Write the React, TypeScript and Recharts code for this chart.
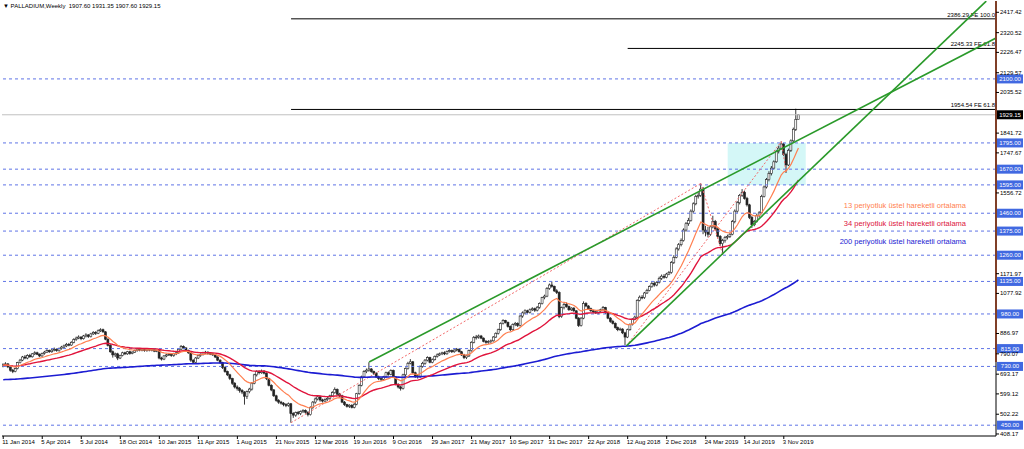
import { ComposedChart, Bar, Line, XAxis, YAxis, ReferenceLine, ReferenceArea } from 'recharts'

const dateLabels = [
  '11 Jan 2014', '5 Apr 2014', '5 Jul 2014', '18 Oct 2014', '10 Jan 2015', '11 Apr 2015', '1 Aug 2015',
  '21 Nov 2015', '12 Mar 2016', '19 Jun 2016', '9 Oct 2016', '29 Jan 2017', '21 May 2017', '10 Sep 2017',
  '31 Dec 2017', '22 Apr 2018', '12 Aug 2018', '2 Dec 2018', '24 Mar 2019', '14 Jul 2019', '3 Nov 2019',
]
const barsPerLabel = 16

// weekly candles, one entry per bar
const opens = [
  732, 738, 742, 728, 712, 706, 720, 748, 760, 775,
  770, 782, 776, 790, 795, 788, 780, 792, 798, 805,
  800, 808, 812, 805, 815, 822, 828, 835, 832, 845,
  858, 865, 870, 862, 875, 880, 872, 885, 892, 888,
  900, 905, 895, 860, 830, 800, 785, 790, 770, 782,
  795, 790, 800, 792, 798, 805, 812, 808, 810, 806,
  812, 808, 810, 803, 806, 770, 765, 780, 785, 788,
  782, 790, 795, 812, 825, 818, 805, 795, 760, 750,
  770, 782, 788, 795, 798, 792, 790, 785, 775, 760,
  748, 725, 705, 690, 672, 650, 632, 625, 615, 608,
  588, 610, 622, 650, 690, 705, 700, 708, 698, 672,
  640, 618, 590, 568, 560, 555, 548, 545, 552, 505,
  498, 510, 505, 515, 520, 512, 500, 535, 560, 575,
  585, 570, 565, 572, 578, 590, 605, 620, 598, 590,
  560, 548, 540, 545, 535, 550, 600, 640, 680, 705,
  712, 718, 705, 698, 680, 672, 668, 680, 700, 692,
  710, 680, 645, 632, 625, 690, 720, 745, 752, 700,
  685, 680, 730, 745, 760, 772, 750, 762, 778, 785,
  790, 795, 790, 802, 805, 800, 808, 812, 800, 785,
  772, 780, 805, 845, 868, 870, 875, 865, 850, 845,
  848, 852, 870, 888, 905, 935, 948, 940, 920, 905,
  930, 935, 925, 970, 985, 995, 988, 1000, 1005, 998,
  1012, 1030, 1058, 1065, 1102, 1118, 1112, 1090, 1082, 968,
  1010, 1025, 1015, 1000, 1008, 995, 960, 925, 960, 1030,
  1018, 1005, 995, 990, 985, 995, 1000, 1010, 985, 960,
  945, 935, 915, 905, 908, 890, 870, 905, 930, 955,
  965, 1045, 1060, 1058, 1080, 1092, 1110, 1125, 1118, 1130,
  1150, 1160, 1155, 1170, 1178, 1225, 1250, 1290, 1310, 1330,
  1380, 1410, 1425, 1470, 1505, 1540, 1545, 1575, 1380, 1370,
  1360, 1395, 1420, 1385, 1350, 1315, 1330, 1345, 1350, 1360,
  1420, 1470, 1510, 1545, 1560, 1530, 1500, 1440, 1405, 1420,
  1450, 1462, 1540, 1585, 1620, 1650, 1675, 1705, 1755, 1770,
  1790, 1740, 1690, 1760, 1805, 1860, 1907.6,
]
const highs = [
  745, 750, 746, 732, 718, 725, 752, 766, 780, 784,
  788, 790, 794, 802, 800, 792, 796, 804, 812, 810,
  813, 820, 816, 820, 828, 834, 842, 842, 850, 864,
  872, 878, 874, 880, 888, 884, 890, 898, 898, 906,
  912, 910, 898, 864, 836, 806, 796, 795, 786, 800,
  800, 804, 805, 802, 810, 818, 816, 815, 814, 817,
  818, 815, 814, 810, 810, 776, 784, 790, 794, 792,
  795, 800, 816, 832, 830, 822, 810, 798, 764, 775,
  786, 792, 800, 804, 802, 796, 794, 790, 778, 764,
  752, 730, 710, 695, 676, 655, 640, 632, 622, 612,
  615, 628, 655, 695, 712, 712, 715, 712, 702, 676,
  645, 622, 595, 574, 566, 560, 555, 558, 556, 512,
  515, 518, 520, 526, 525, 516, 540, 565, 582, 592,
  590, 576, 578, 584, 595, 612, 630, 625, 604, 595,
  565, 552, 550, 550, 555, 604, 645, 686, 712, 720,
  750, 722, 710, 702, 686, 678, 685, 705, 706, 716,
  715, 684, 650, 638, 695, 725, 752, 765, 756, 705,
  692, 735, 752, 765, 778, 776, 768, 782, 792, 796,
  800, 802, 806, 812, 810, 812, 818, 816, 804, 790,
  786, 810, 850, 875, 880, 882, 880, 868, 856, 855,
  858, 875, 892, 910, 940, 955, 952, 944, 925, 935,
  942, 940, 975, 992, 1002, 1000, 1006, 1012, 1010, 1018,
  1035, 1062, 1072, 1108, 1125, 1135, 1115, 1098, 1088, 1015,
  1032, 1035, 1020, 1012, 1012, 998, 965, 965, 1040, 1036,
  1022, 1010, 1000, 994, 1000, 1005, 1018, 1014, 988, 965,
  952, 940, 920, 915, 912, 895, 910, 935, 960, 972,
  1050, 1068, 1070, 1085, 1100, 1116, 1132, 1135, 1136, 1158,
  1168, 1170, 1176, 1185, 1232, 1260, 1298, 1318, 1340, 1388,
  1418, 1438, 1478, 1512, 1548, 1560, 1602, 1585, 1400, 1395,
  1402, 1448, 1428, 1392, 1356, 1338, 1352, 1358, 1365, 1428,
  1478, 1518, 1552, 1575, 1568, 1538, 1505, 1448, 1428, 1458,
  1470, 1548, 1592, 1628, 1660, 1685, 1712, 1762, 1782, 1802,
  1795, 1748, 1768, 1812, 1868, 1958, 1931.35,
]
const lows = [
  726, 733, 722, 705, 698, 702, 716, 744, 755, 764,
  764, 772, 772, 784, 784, 774, 776, 786, 794, 795,
  795, 802, 800, 800, 810, 816, 822, 826, 828, 840,
  852, 860, 855, 858, 868, 866, 868, 880, 880, 884,
  894, 890, 855, 825, 795, 772, 775, 760, 765, 778,
  784, 785, 786, 788, 794, 800, 802, 802, 800, 800,
  802, 802, 798, 798, 764, 758, 760, 774, 780, 776,
  776, 784, 790, 808, 812, 800, 790, 752, 742, 745,
  765, 776, 782, 790, 786, 784, 780, 770, 755, 742,
  718, 700, 684, 665, 642, 625, 615, 605, 598, 548,
  575, 602, 615, 645, 682, 692, 695, 692, 665, 635,
  612, 585, 562, 552, 548, 540, 536, 538, 462, 485,
  490, 498, 498, 508, 505, 492, 496, 528, 552, 568,
  562, 558, 560, 566, 572, 585, 600, 592, 582, 555,
  542, 534, 532, 530, 530, 545, 595, 635, 675, 698,
  705, 700, 690, 675, 665, 660, 662, 676, 686, 688,
  676, 640, 625, 615, 620, 682, 715, 740, 695, 675,
  672, 676, 724, 738, 754, 745, 745, 758, 772, 780,
  784, 784, 786, 796, 794, 795, 802, 796, 780, 765,
  765, 775, 800, 840, 858, 862, 860, 845, 838, 838,
  840, 848, 866, 882, 900, 930, 935, 915, 898, 900,
  922, 918, 920, 962, 978, 982, 982, 994, 990, 992,
  1005, 1025, 1050, 1060, 1095, 1105, 1085, 1075, 960, 962,
  1002, 1010, 995, 994, 990, 955, 918, 920, 955, 1012,
  1000, 990, 984, 980, 978, 990, 995, 980, 955, 938,
  930, 910, 898, 900, 884, 832, 865, 900, 925, 950,
  960, 1040, 1050, 1052, 1075, 1088, 1105, 1110, 1112, 1125,
  1142, 1148, 1150, 1165, 1172, 1218, 1245, 1282, 1302, 1325,
  1372, 1400, 1420, 1462, 1498, 1530, 1538, 1360, 1350, 1345,
  1352, 1388, 1378, 1340, 1305, 1262, 1320, 1335, 1342, 1355,
  1412, 1462, 1502, 1538, 1525, 1492, 1432, 1390, 1398, 1415,
  1440, 1455, 1535, 1578, 1612, 1640, 1668, 1700, 1745, 1762,
  1732, 1652, 1685, 1752, 1798, 1852, 1907.6,
]
const closes = [
  738, 742, 728, 712, 706, 720, 748, 760, 775, 770,
  782, 776, 790, 795, 788, 780, 792, 798, 805, 800,
  808, 812, 805, 815, 822, 828, 835, 832, 845, 858,
  865, 870, 862, 875, 880, 872, 885, 892, 888, 900,
  905, 895, 860, 830, 800, 785, 790, 770, 782, 795,
  790, 800, 792, 798, 805, 812, 808, 810, 806, 812,
  808, 810, 803, 806, 770, 765, 780, 785, 788, 782,
  790, 795, 812, 825, 818, 805, 795, 760, 750, 770,
  782, 788, 795, 798, 792, 790, 785, 775, 760, 748,
  725, 705, 690, 672, 650, 632, 625, 615, 608, 588,
  610, 622, 650, 690, 705, 700, 708, 698, 672, 640,
  618, 590, 568, 560, 555, 548, 545, 552, 505, 498,
  510, 505, 515, 520, 512, 500, 535, 560, 575, 585,
  570, 565, 572, 578, 590, 605, 620, 598, 590, 560,
  548, 540, 545, 535, 550, 600, 640, 680, 705, 712,
  718, 705, 698, 680, 672, 668, 680, 700, 692, 710,
  680, 645, 632, 625, 690, 720, 745, 752, 700, 685,
  680, 730, 745, 760, 772, 750, 762, 778, 785, 790,
  795, 790, 802, 805, 800, 808, 812, 800, 785, 772,
  780, 805, 845, 868, 870, 875, 865, 850, 845, 848,
  852, 870, 888, 905, 935, 948, 940, 920, 905, 930,
  935, 925, 970, 985, 995, 988, 1000, 1005, 998, 1012,
  1030, 1058, 1065, 1102, 1118, 1112, 1090, 1082, 968, 1010,
  1025, 1015, 1000, 1008, 995, 960, 925, 960, 1030, 1018,
  1005, 995, 990, 985, 995, 1000, 1010, 985, 960, 945,
  935, 915, 905, 908, 890, 870, 905, 930, 955, 965,
  1045, 1060, 1058, 1080, 1092, 1110, 1125, 1118, 1130, 1150,
  1160, 1155, 1170, 1178, 1225, 1250, 1290, 1310, 1330, 1380,
  1410, 1425, 1470, 1505, 1540, 1545, 1575, 1380, 1370, 1360,
  1395, 1420, 1385, 1350, 1315, 1330, 1345, 1350, 1360, 1420,
  1470, 1510, 1545, 1560, 1530, 1500, 1440, 1405, 1420, 1450,
  1462, 1540, 1585, 1620, 1650, 1675, 1705, 1755, 1770, 1790,
  1740, 1690, 1760, 1805, 1860, 1907.6, 1929.15,
]

// moving average starting values
const ema13Start = 736
const ema34Start = 735
const ema200Start = 666

const priceTicks = [
  2417.42, 2320.52, 2226.47, 2129.57, 2035.52, 1841.72, 1747.67, 1556.72,
  1171.97, 1077.92, 886.97, 790.07, 693.17, 599.12, 502.22, 408.17,
]
const levels = [2100, 1795, 1670, 1595, 1460, 1375, 1260, 1135, 980, 815, 730, 450]
const lastPrice = 1929.15

const feValues = [2386.29, 2245.33, 1954.54]
const feStarts = [118, 256, 118]
const feTexts = ['2386.29 FE 100.0', '2245.33 FE 61.8', '1954.54 FE 61.8']

const greenLines = [
  [{ x: 150, y: 751 }, { x: 407, y: 2295 }],
  [{ x: 255.5, y: 828 }, { x: 403, y: 2471 }],
]
const dottedLines = [
  [{ x: 118, y: 462 }, { x: 286, y: 1602 }],
  [{ x: 286, y: 1602 }, { x: 295, y: 1262 }],
  [{ x: 255.5, y: 828 }, { x: 319, y: 1802 }],
  [{ x: 319, y: 1802 }, { x: 321, y: 1652 }],
]

const Y_MIN = 398.5
const Y_MAX = 2471.3
const X_MAX = 407
const FONT = '"Liberation Sans", Arial, sans-serif'

const ema = (period: number, start: number) => {
  const k = 2 / (period + 1)
  let e = start
  return closes.map((c) => (e = e + k * (c - e)))
}
const ema13 = ema(13, ema13Start)
const ema34 = ema(34, ema34Start)
const ema200 = ema(200, ema200Start)

const rows = closes.map((c, i) => ({
  i,
  o: opens[i],
  h: highs[i],
  l: lows[i],
  c,
  range: [lows[i], highs[i]],
  ema13: ema13[i],
  ema34: ema34[i],
  ema200: ema200[i],
}))

const dateTicks = dateLabels.map((_d, k) => k * barsPerLabel)

const Candle = (props: any) => {
  const { x, y, width, height, payload } = props
  const top = Math.min(y, y + height)
  const bot = Math.max(y, y + height)
  const span = payload.h - payload.l || 1
  const py = (v: number) => top + ((payload.h - v) / span) * (bot - top)
  const cx = x + width / 2
  const yo = py(payload.o)
  const yc = py(payload.c)
  const bull = payload.c >= payload.o
  return (
    <g>
      <line x1={cx} x2={cx} y1={top} y2={bot} stroke="#222" strokeWidth={0.9} />
      <rect
        x={cx - 1}
        y={Math.min(yo, yc)}
        width={2}
        height={Math.max(Math.abs(yo - yc), 0.8)}
        fill={bull ? '#fff' : '#222'}
        stroke="#222"
        strokeWidth={0.6}
      />
    </g>
  )
}

const DateTick = ({ x, y, payload }: any) => (
  <text x={x - 1} y={y + 5} fontSize={6} fontFamily={FONT} fill="#000" textAnchor="start">
    {dateLabels[Math.round(payload.value / barsPerLabel)]}
  </text>
)

const PriceTick = ({ x, y, payload }: any) => (
  <text x={x + 1} y={y + 2} fontSize={6} fontFamily={FONT} fill="#000" textAnchor="start">
    {payload.value.toFixed(2)}
  </text>
)

const boxLabel = (text: string, fill: string) => (p: any) => {
  const { x, y, width } = p.viewBox
  const bx = x + width + 1
  return (
    <g>
      <rect x={bx} y={y - 4.5} width={26} height={9} fill={fill} />
      <text x={bx + 13} y={y + 2} fontSize={6} fontFamily={FONT} fill="#fff" textAnchor="middle">
        {text}
      </text>
    </g>
  )
}

const feLabel = (text: string) => (p: any) => {
  const { x, y, width } = p.viewBox
  return (
    <text x={x + width - 1} y={y - 2} fontSize={6} fontFamily={FONT} fill="#000" textAnchor="end">
      {text}
    </text>
  )
}

export default function App() {
  return (
    <div style={{ position: 'absolute', left: 0, top: 0, width: 1024, height: 449, background: '#fff' }}>
      <ComposedChart width={1024} height={449} data={rows} margin={{ top: 1, right: 0, bottom: 0, left: 2 }}>
        <XAxis
          type="number"
          dataKey="i"
          domain={[-0.5, X_MAX]}
          allowDataOverflow
          ticks={dateTicks}
          interval={0}
          tick={<DateTick />}
          tickSize={3}
          tickMargin={0}
          height={13}
          stroke="#000"
        />
        <YAxis
          orientation="right"
          domain={[Y_MIN, Y_MAX]}
          allowDataOverflow
          ticks={priceTicks}
          interval={0}
          tick={<PriceTick />}
          tickSize={3}
          tickMargin={0}
          width={28}
          stroke="#000"
        />
        <ReferenceArea x1={297} x2={329} y1={1595} y2={1795} fill="#d4f7f7" fillOpacity={1} stroke="none" />
        {levels.map((v) => (
          <ReferenceLine
            key={`lv-${v}`}
            y={v}
            stroke="#5f74e6"
            strokeDasharray="3 3"
            label={boxLabel(v.toFixed(2), '#4169e1')}
          />
        ))}
        <ReferenceLine y={lastPrice} stroke="#c0c0c0" label={boxLabel(lastPrice.toFixed(2), '#000')} />
        {feValues.map((v, k) => (
          <ReferenceLine
            key={`fe-${k}`}
            segment={[{ x: feStarts[k], y: v }, { x: X_MAX, y: v }]}
            stroke="#000"
            label={feLabel(feTexts[k])}
          />
        ))}
        {dottedLines.map((seg, k) => (
          <ReferenceLine key={`dl-${k}`} segment={seg} stroke="#f26a6a" strokeDasharray="2 2" ifOverflow="hidden" />
        ))}
        <Bar dataKey="range" barSize={2} shape={<Candle />} isAnimationActive={false} />
        <Line dataKey="ema200" stroke="#1c1cd2" strokeWidth={1.6} dot={false} activeDot={false} isAnimationActive={false} />
        <Line dataKey="ema34" stroke="#e0143c" strokeWidth={1.4} dot={false} activeDot={false} isAnimationActive={false} />
        <Line dataKey="ema13" stroke="#ff7f50" strokeWidth={1.2} dot={false} activeDot={false} isAnimationActive={false} />
        {greenLines.map((seg, k) => (
          <ReferenceLine key={`gl-${k}`} segment={seg} stroke="#2a9a2a" strokeWidth={1.6} ifOverflow="hidden" />
        ))}
        <ReferenceLine segment={[{ x: X_MAX, y: Y_MAX }, { x: X_MAX, y: 751 }]} stroke="#ff7f50" strokeWidth={2} />
      </ComposedChart>
      <div style={{ position: 'absolute', left: 3, top: 2, fontSize: 6, lineHeight: '9px', fontFamily: FONT, color: '#000', whiteSpace: 'pre' }}>
        {'▼ PALLADIUM,Weekly  1907.60 1931.35 1907.60 1929.15'}
      </div>
      <div style={{ position: 'absolute', right: 58, top: 201, fontSize: 7.5, lineHeight: '9px', fontFamily: FONT, color: '#ff7f50', whiteSpace: 'pre' }}>
        13 periyotluk üstel hareketli ortalama
      </div>
      <div style={{ position: 'absolute', right: 58, top: 218.5, fontSize: 7.5, lineHeight: '9px', fontFamily: FONT, color: '#dc143c', whiteSpace: 'pre' }}>
        34 periyotluk üstel hareketli ortalama
      </div>
      <div style={{ position: 'absolute', right: 58, top: 236.5, fontSize: 7.5, lineHeight: '9px', fontFamily: FONT, color: '#1c1cd2', whiteSpace: 'pre' }}>
        200 periyotluk üstel hareketli ortalama
      </div>
    </div>
  )
}
